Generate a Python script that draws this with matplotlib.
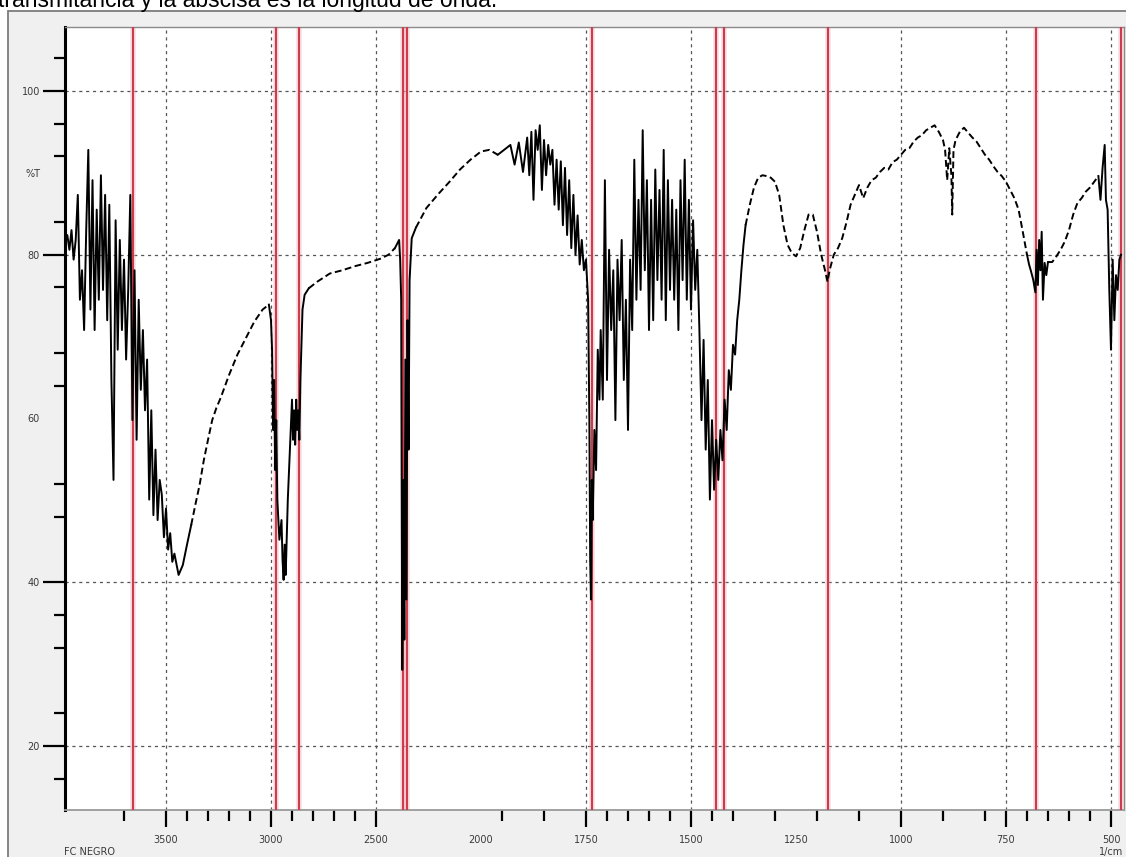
import numpy as np
import matplotlib
matplotlib.use("Agg")
import matplotlib.pyplot as plt
import matplotlib.transforms as mtransforms
from matplotlib.patches import Rectangle
from matplotlib.ticker import FixedLocator

# ========================= data ========================= #
sample = "FC NEGRO"
caption = "transmitancia y la abscisa es la longitud de onda."

# wavenumber (1/cm) and %T of the spectrum
wavenumber = [
    3980, 3970, 3960, 3950, 3940, 3930, 3920, 3910, 3900, 3890,
    3880, 3870, 3860, 3850, 3840, 3830, 3820, 3810, 3800, 3790,
    3780, 3770, 3760, 3750, 3740, 3730, 3720, 3710, 3700, 3690,
    3680, 3670, 3660, 3650, 3640, 3630, 3620, 3610, 3600, 3590,
    3580, 3570, 3560, 3550, 3540, 3530,
    3520, 3510, 3500, 3490, 3480, 3470, 3460, 3440, 3420, 3400,
    3380, 3360, 3340, 3320, 3300, 3280, 3260, 3240, 3200, 3160,
    3120, 3080, 3040, 3010,
    3000, 2995, 2990, 2985, 2980, 2975, 2970, 2960, 2950, 2945,
    2940, 2935, 2930, 2920, 2910, 2900, 2895, 2890, 2885, 2880,
    2875, 2870, 2865, 2860, 2850, 2840, 2820, 2780, 2720, 2660,
    2600, 2540, 2480, 2440, 2410, 2390,
    2385, 2380, 2375, 2370, 2365, 2360, 2355, 2350, 2345, 2340,
    2330, 2310, 2260, 2200, 2150, 2100, 2050, 2000, 1980, 1960,
    1940,
    1930, 1920, 1910, 1900, 1890, 1885, 1880, 1875, 1870, 1865,
    1860, 1855, 1850, 1845, 1840, 1835, 1830, 1825, 1820, 1815,
    1810, 1805, 1800, 1795, 1790, 1785, 1780, 1775, 1770, 1765,
    1760, 1755, 1750, 1745, 1742, 1740, 1738, 1736, 1734, 1730,
    1726, 1722, 1718,
    1715, 1710, 1705, 1700, 1695, 1690, 1685, 1680, 1675, 1670,
    1665, 1660, 1655, 1650, 1645, 1640, 1635, 1630, 1625, 1620,
    1615, 1610, 1605, 1600, 1595, 1590, 1585, 1580, 1575, 1570,
    1565, 1560, 1555, 1550, 1545, 1540, 1535, 1530, 1525, 1520,
    1515, 1510, 1505, 1500, 1495, 1490, 1485,
    1480, 1475, 1470, 1465, 1460, 1455, 1450, 1445, 1440, 1435,
    1430, 1425, 1420, 1415, 1410, 1405, 1400, 1395, 1390, 1385,
    1380, 1375, 1370,
    1360, 1350, 1340, 1330, 1320, 1310, 1300, 1290, 1280, 1270,
    1260, 1250, 1240, 1230, 1220, 1210, 1200, 1190, 1180, 1175,
    1170, 1160, 1150, 1140, 1130, 1120, 1110, 1100, 1090, 1080,
    1070, 1060, 1050, 1040, 1030, 1020, 1010, 1000, 990, 980,
    970, 960, 950, 940, 930, 920, 910, 900, 895, 890,
    885, 880, 878, 875, 870, 860, 850, 840, 830, 820,
    810, 800, 790, 780, 770, 760, 750, 740, 730, 720,
    710, 700,
    695, 690, 685, 680, 677, 674, 671, 668, 665, 662,
    658, 654, 650, 640, 630, 620, 610, 600, 590, 580,
    570, 560, 550, 540, 530, 525, 520, 515, 512, 508,
    504, 500, 496, 492, 488, 484, 480, 476,
]
transmittance = [
    81.8, 82.4, 80.6, 83.0, 79.4, 81.8, 87.3, 74.5, 78.1, 70.8,
    83.0, 92.8, 73.3, 89.1, 70.8, 85.5, 74.5, 89.7, 75.7, 87.3,
    72.0, 86.1, 64.7, 52.5, 84.2, 68.4, 81.8, 70.8, 79.4, 67.2,
    75.7, 87.3, 59.8, 78.1, 57.4, 74.5, 63.5, 70.8, 61.0, 67.2,
    50.1, 61.0, 48.2, 56.2, 47.6, 52.5,
    50.7, 45.5, 49.0, 44.0, 46.0, 42.5, 43.5, 40.9, 42.1, 44.6,
    47.0, 49.5, 51.9, 54.9, 57.4, 59.8, 61.3, 62.5, 65.3, 67.8,
    69.8, 71.8, 73.3, 73.9,
    72.0, 68.4, 58.6, 64.7, 53.7, 59.8, 50.1, 45.2, 47.6, 42.7,
    40.3, 44.6, 40.9, 50.1, 56.2, 62.3, 57.4, 61.0, 56.8, 62.3,
    58.6, 61.0, 57.4, 64.7, 73.3, 75.1, 75.9, 76.7, 77.7, 78.1,
    78.6, 79.0, 79.5, 80.0, 80.8, 81.8,
    79.4, 74.5, 29.3, 52.5, 33.0, 67.2, 37.9, 72.0, 56.2, 76.9,
    82.0, 83.3, 85.7, 87.5, 88.9, 90.4, 91.6, 92.6, 92.8, 92.2,
    93.0,
    93.4, 91.0, 93.7, 90.1, 94.3, 89.7, 95.0, 86.7, 95.2, 92.8,
    95.8, 87.9, 94.0, 89.7, 93.4, 91.0, 92.8, 86.1, 91.6, 85.5,
    91.4, 83.6, 90.6, 82.4, 89.1, 80.8, 87.3, 80.0, 84.8, 78.8,
    81.8, 78.1, 79.4, 74.5, 59.8, 42.7, 37.9, 52.5, 47.6, 58.6,
    53.7, 68.4, 62.3,
    70.8, 62.3, 89.1, 64.7, 80.6, 70.8, 78.1, 59.8, 79.4, 72.0,
    81.8, 64.7, 74.5, 58.6, 79.4, 70.8, 91.6, 74.5, 86.7, 75.7,
    95.2, 78.1, 89.1, 70.8, 86.7, 72.0, 90.4, 76.9, 87.9, 74.5,
    92.8, 72.0, 89.1, 75.7, 86.7, 74.5, 85.5, 70.8, 89.1, 76.9,
    91.6, 74.5, 86.7, 73.3, 84.2, 75.7, 80.6,
    70.8, 59.8, 69.6, 56.2, 64.7, 50.1, 59.8, 51.3, 57.4, 52.5,
    58.6, 54.9, 62.3, 58.6, 65.9, 63.5, 69.0, 67.8, 72.0, 74.5,
    78.1, 81.2, 83.6,
    86.1, 88.2, 89.4, 89.7, 89.6, 89.4, 88.9, 87.3, 83.6, 81.2,
    80.2, 79.8, 80.8, 83.0, 84.9, 84.9, 82.8, 80.0, 77.9, 76.7,
    78.1, 80.0, 80.8, 82.0, 83.9, 86.1, 87.3, 88.5, 86.9, 88.2,
    89.1, 89.4, 90.1, 90.6, 90.4, 91.3, 91.6, 92.2, 92.8, 93.0,
    93.8, 94.3, 94.6, 95.2, 95.5, 95.8, 95.0, 94.0, 92.8, 89.1,
    93.0, 89.7, 84.9, 92.8, 94.0, 95.0, 95.5, 94.9, 94.3, 93.8,
    93.0, 92.2, 91.6, 90.8, 90.1, 89.6, 88.9, 87.9, 86.9, 85.5,
    82.8, 80.0,
    78.8, 77.9, 76.9, 75.4, 80.6, 76.3, 81.8, 78.1, 82.8, 74.5,
    79.0, 77.5, 79.1, 79.1, 79.8, 80.6, 81.6, 83.0, 84.9, 86.3,
    86.9, 87.7, 88.2, 88.9, 89.6, 86.7, 90.6, 93.4, 86.7, 85.5,
    75.7, 68.4, 79.4, 72.0, 77.5, 75.7, 79.4, 80.0,
]

# picked peaks (1/cm)
peaks = [3657, 2976, 2867, 2371, 2352, 1736, 1440, 1421, 1174, 679, 477]

# axis ticks
x_major = [3500, 3000, 2500, 2000, 1750, 1500, 1250, 1000, 750, 500]
x_unmarked = [2000, 1250]
x_minor = [3700, 3400, 3300, 3200, 3100, 2900, 2800, 2700, 2600,
           1950, 1850, 1700, 1650, 1600, 1550, 1450, 1400, 1300, 1200,
           1100, 900, 800, 700, 650, 600, 550]
y_major = [20, 40, 60, 80, 90, 100]
y_labels = ["20", "40", "60", "80", "%T", "100"]
y_unmarked = [60, 90]
y_minor = [104, 96, 92, 84, 76, 68, 64, 52, 48, 36, 32, 24, 16, 12]

# wavenumber ranges where the trace is drawn broken
smooth_ranges = [(3390, 3010), (2830, 2392), (2325, 1945), (1370, 700), (650, 530)]

# ============================================================= #


# x axis: 500 1/cm per division above 2000, 250 below
def fwd(w):
    w = np.asarray(w, dtype=float)
    return np.where(w >= 2000, (w - 2000) / 500.0, (w - 2000) / 250.0)


def inv(p):
    p = np.asarray(p, dtype=float)
    return np.where(p >= 0, 2000 + 500.0 * p, 2000 + 250.0 * p)


W, H = 1126, 857
fig = plt.figure(figsize=(W / 100, H / 100), dpi=100)
fig.patch.set_facecolor("white")

# window panel behind the plot
panel = Rectangle((8 / W, -0.05), 1.0, 1.05 - 11 / H, transform=fig.transFigure,
                  facecolor="#f0f0f0", edgecolor="#7c7c7c", lw=1.3, zorder=-5)
fig.patches.append(panel)
fig.text(-2 / W, 1 - 7 / H, caption, fontsize=16.5, family="Liberation Sans",
         ha="left", va="baseline", color="black")

ax = fig.add_axes([65 / W, 1 - 810 / H, (1124 - 65) / W, (810 - 27) / H])
ax.set_zorder(2)
ax.set_facecolor("white")
ax.set_xscale("function", functions=(fwd, inv))
ax.set_xlim(3981, 469)
ax.set_ylim(12.2, 107.8)

# peak markers
for p in peaks:
    ax.axvline(p, color="#e8a0a8", lw=4, alpha=0.35, zorder=2)
    ax.axvline(p, color="#cf3a4c", lw=1.5, zorder=3)

# spectrum: solid where noisy, broken where smooth
w = np.array(wavenumber, dtype=float)
t = np.array(transmittance, dtype=float)
smooth = np.zeros(len(w), dtype=bool)
for hi, lo in smooth_ranges:
    smooth |= (w <= hi) & (w >= lo)
solid = ~smooth
solid[1:] |= ~smooth[:-1]
solid[:-1] |= ~smooth[1:]
ax.plot(w, np.where(solid, t, np.nan), color="black", lw=1.4, zorder=5)
ax.plot(w, np.where(smooth, t, np.nan), color="black", lw=1.4,
        linestyle=(0, (3.5, 1.8)), zorder=5)

# ticks and grid
ax.xaxis.set_major_locator(FixedLocator(x_major))
ax.xaxis.set_minor_locator(FixedLocator(x_minor))
ax.set_xticklabels([str(v) for v in x_major])
ax.yaxis.set_major_locator(FixedLocator(y_major))
ax.yaxis.set_minor_locator(FixedLocator(y_minor))
ax.set_yticklabels(y_labels)

ax.tick_params(axis="x", which="major", direction="out", length=12, width=1.6,
               pad=6, labelsize=7, labelcolor="#3a3a3a")
ax.tick_params(axis="x", which="minor", direction="out", length=8, width=1.6)
ax.tick_params(axis="y", which="major", direction="out", length=16, width=1.6,
               pad=2, labelsize=7, labelcolor="#3a3a3a")
ax.tick_params(axis="y", which="minor", direction="out", length=8, width=1.6)
ax.grid(which="major", color="#555555", linestyle=(0, (2.5, 3)), lw=0.9)

for tick, v in zip(ax.xaxis.get_major_ticks(), x_major):
    if v in x_unmarked:
        tick.tick1line.set_visible(False)
        tick.gridline.set_visible(False)
for tick, v in zip(ax.yaxis.get_major_ticks(), y_major):
    if v in y_unmarked:
        tick.tick1line.set_visible(False)
        tick.gridline.set_visible(False)

ax.spines["left"].set_color("black")
ax.spines["left"].set_linewidth(2.2)
ax.spines["bottom"].set_color("#9a9a9a")
ax.spines["bottom"].set_linewidth(1.3)
for s in ["top", "right"]:
    ax.spines[s].set_color("#8a8a8a")
    ax.spines[s].set_linewidth(1.0)

trans = mtransforms.blended_transform_factory(ax.transData, ax.transAxes)
ax.text(500, -0.054, "1/cm", transform=trans, fontsize=7, color="#3a3a3a",
        ha="center", va="center")
fig.text(64 / W, 1 - 852 / H, sample, fontsize=7, color="#3a3a3a", ha="left", va="center")

fig.savefig("out.png", dpi=100)
